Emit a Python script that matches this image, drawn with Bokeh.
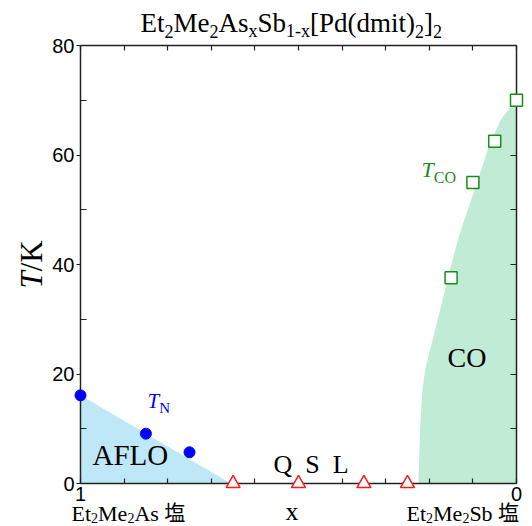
import math
from bokeh.plotting import figure
from bokeh.models import Range1d, LinearAxis, FixedTicker, Label
from bokeh.embed import file_html
from bokeh.resources import INLINE

# ---------------- data ----------------
tn_x = [1.0, 0.85, 0.75]
tn_T = [16.1, 9.1, 5.7]

qsl_x = [0.65, 0.50, 0.35, 0.25]
qsl_T = [0.0, 0.0, 0.0, 0.0]

tco_x = [0.0, 0.05, 0.10, 0.15]
tco_T = [70.0, 62.5, 55.0, 37.6]

aflo_x = [1.0, 1.0, 0.655]
aflo_T = [0.0, 16.1, 0.0]

co_x = [0.225, 0.221, 0.216, 0.209, 0.187, 0.170, 0.151, 0.133, 0.110, 0.089, 0.064, 0.037, 0.016, 0.0, 0.0]
co_T = [0.0, 10.0, 17.0, 21.0, 28.0, 33.4, 39.5, 44.9, 50.4, 55.3, 61.4, 66.3, 68.6, 70.0, 0.0]

x_major = [0.0, 1.0]
x_major_labels = {0: "0", 1: "1"}
x_minor = [0.1, 0.2, 0.3, 0.4, 0.5, 0.6, 0.7, 0.8, 0.9]
x_all = [0.0, 0.1, 0.2, 0.3, 0.4, 0.5, 0.6, 0.7, 0.8, 0.9, 1.0]
y_major = [0, 20, 40, 60, 80]
y_minor = [10, 30, 50, 70]
y_all = [0, 10, 20, 30, 40, 50, 60, 70, 80]

# ---------------- layout ----------------
W, H = 532, 526
FL, FR, FT, FB = 80, 516, 45, 483      # pixel box of the chart area
X0, X1 = 1.0, 0.0
Y0, Y1 = 0.0, 80.0
K = 0.36                                # baseline correction (em)

def dx(px):
    return X0 + (px - FL) * (X1 - X0) / (FR - FL)

def dy(py):
    return Y0 + (FB - py) * (Y1 - Y0) / (FB - FT)

SERIF = "Liberation Serif"
SANS = "Liberation Sans"
CJK = "Noto Sans CJK JP"

WID = {'E': 611, 't': 278, 'M': 889, 'e': 444, 'A': 722, 's': 389, 'S': 556,
       'b': 500, '[': 333, 'P': 556, 'd': 500, '(': 333, 'm': 778, 'i': 278,
       ')': 333, ']': 333, '1': 500, '2': 500, 'x': 500, '-': 333, ' ': 250,
       '/': 278, 'K': 722, 'C': 667, 'O': 722, 'N': 722, 'Q': 722, 'L': 611,
       'F': 556, '\u2002': 500}

def text_width(s, size, style="normal", font=SERIF):
    if font == CJK:
        return size * len(s)
    tot = 0
    for ch in s:
        if style == "italic" and ch == 'T':
            tot += 556
        else:
            tot += WID.get(ch, 500)
    return tot * size / 1000.0

# frame spans the whole canvas; axes are pinned at the chart box edges
p = figure(width=W, height=H, x_range=Range1d(dx(0), dx(W)), y_range=Range1d(dy(H), dy(0)),
           output_backend="svg", toolbar_location=None, title=None,
           x_axis_location=None, y_axis_location=None,
           min_border_left=0, min_border_right=0, min_border_top=0, min_border_bottom=0)
p.grid.grid_line_color = None
p.outline_line_color = None
p.background_fill_color = "white"
p.border_fill_color = "white"

def rich(parts, px, py, color="black", angle=0.0):
    cur = 0.0
    for (txt, size, style, font, dpy) in parts:
        if angle == 0.0:
            lx, ly = dx(px + cur), dy(py + dpy - K * size)
        else:
            lx, ly = dx(px + dpy - K * size), dy(py - cur)
        p.add_layout(Label(x=lx, y=ly, text=txt, text_font=font,
                           text_font_size=f"{size}px", text_font_style=style,
                           text_color=color, text_align="left",
                           text_baseline="alphabetic", angle=angle))
        cur += text_width(txt, size, style, font)

# regions
p.patch(aflo_x, aflo_T, fill_color="#bee8f8", line_color=None)
p.patch(co_x, co_T, fill_color="#c0ecd6", line_color=None)

# axes
AX = "#222222"
def style_axis(ax):
    ax.axis_line_color = AX
    ax.axis_line_width = 1.5
    ax.major_tick_line_color = AX
    ax.minor_tick_line_color = AX
    ax.major_tick_line_width = 1.2
    ax.minor_tick_line_width = 1.2

left = LinearAxis(ticker=FixedTicker(ticks=y_major, minor_ticks=y_minor),
                  fixed_location=X0, bounds=(Y0, Y1))
style_axis(left)
left.major_tick_in = 0
left.major_tick_out = 4
left.minor_tick_in = 6
left.minor_tick_out = 0
left.major_label_standoff = 2
left.major_label_text_font = SANS
left.major_label_text_font_size = "20px"
left.major_label_text_color = "black"
p.add_layout(left, "left")

right = LinearAxis(ticker=FixedTicker(ticks=[], minor_ticks=y_all),
                   fixed_location=X1, bounds=(Y0, Y1))
style_axis(right)
right.minor_tick_in = 6
right.minor_tick_out = 0
right.major_tick_in = 0
right.major_tick_out = 0
p.add_layout(right, "right")

bottom = LinearAxis(ticker=FixedTicker(ticks=x_major, minor_ticks=x_minor),
                    fixed_location=Y0, bounds=(X1, X0))
style_axis(bottom)
bottom.major_tick_in = 5
bottom.major_tick_out = 0
bottom.minor_tick_in = 5
bottom.minor_tick_out = 0
bottom.major_label_overrides = x_major_labels
bottom.major_label_standoff = 3
bottom.major_label_text_font = SANS
bottom.major_label_text_font_size = "20px"
bottom.major_label_text_color = "black"
p.add_layout(bottom, "below")

top = LinearAxis(ticker=FixedTicker(ticks=[], minor_ticks=x_all),
                 fixed_location=Y1, bounds=(X1, X0))
style_axis(top)
top.minor_tick_in = 5
top.minor_tick_out = 0
top.major_tick_in = 0
top.major_tick_out = 0
p.add_layout(top, "above")

# markers (drawn above the axes)
r1 = p.scatter(tn_x, tn_T, marker="circle", size=11, fill_color="#0000ff", line_color="#0000ff")
r2 = p.scatter(qsl_x, qsl_T, marker="triangle", size=14, fill_color="white",
               line_color="#ff1a1a", line_width=1.5)
r3 = p.scatter(tco_x, tco_T, marker="square", size=12, fill_color="white",
               line_color="#1a8c1a", line_width=1.5)
for r in (r1, r2, r3):
    r.level = "overlay"

# title
S_M, S_S, DS = 27, 18, 5
rich([("Et", S_M, "normal", SERIF, 0), ("2", S_S, "normal", SERIF, DS),
      ("Me", S_M, "normal", SERIF, 0), ("2", S_S, "normal", SERIF, DS),
      ("As", S_M, "normal", SERIF, 0), ("x", S_S, "normal", SERIF, DS),
      ("Sb", S_M, "normal", SERIF, 0), ("1-x", S_S, "normal", SERIF, DS),
      ("[Pd(dmit)", S_M, "normal", SERIF, 0), ("2", S_S, "normal", SERIF, DS),
      ("]", S_M, "normal", SERIF, 0), ("2", S_S, "normal", SERIF, DS)],
     140, 32)

# y-axis label
rich([("T", 31, "italic", SERIF, 0), ("/K", 31, "normal", SERIF, 0)],
     42, 288, angle=math.pi / 2)

# x-axis label
rich([("x", 26, "normal", SERIF, 0)], 285, 520)

# end labels
for (name, px) in [("As", 71), ("Sb", 406)]:
    rich([("Et", 22, "normal", SERIF, 0), ("2", 14, "normal", SERIF, 1.5),
          ("Me", 22, "normal", SERIF, 0), ("2", 14, "normal", SERIF, 1.5),
          (name + " ", 22, "normal", SERIF, 0), ("塩", 21, "normal", CJK, -2.5)],
         px, 521)

# region labels
rich([("AFLO", 29, "normal", SERIF, 0)], 92, 465)
rich([("Q\u2002S\u2002L", 26, "normal", SERIF, 0)], 273, 473)
rich([("CO", 28, "normal", SERIF, 0)], 447, 367)
rich([("T", 21, "italic", SERIF, 0), ("N", 15, "normal", SERIF, 5)], 147, 408, color="#0000ff")
rich([("T", 22, "italic", SERIF, 0), ("CO", 16, "normal", SERIF, 6)], 421, 177, color="#1a8c1a")

open("out.html", "w").write(file_html(p, INLINE))
